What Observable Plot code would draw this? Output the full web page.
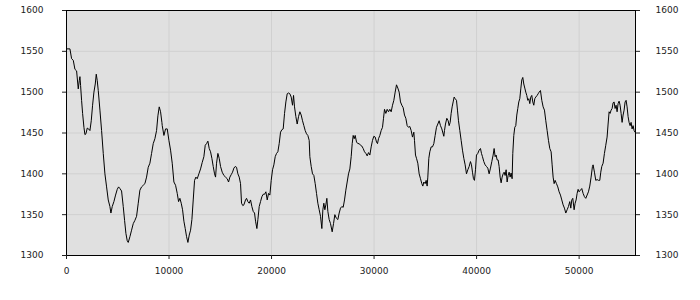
<!DOCTYPE html>
<html>
<head>
<meta charset="utf-8">
<script src="https://cdn.jsdelivr.net/npm/d3@7"></script>
<script src="https://cdn.jsdelivr.net/npm/@observablehq/plot@0.6"></script>
<style>
  html, body { margin: 0; padding: 0; background: #ffffff; }
  #chart svg { display: block; }
</style>
</head>
<body>
<div id="chart"></div>
<script>
const xTicks = [0, 10000, 20000, 30000, 40000, 50000];
const yTicks = [1300, 1350, 1400, 1450, 1500, 1550, 1600];

const segmentA = [[0,1553],[335,1553],[497,1541],[660,1539],[822,1528],[985,1526],[1147,1504],[1245,1514],[1310,1519],[1375,1508],[1472,1490],[1570,1474],[1700,1457],[1797,1448],[1895,1449],[2025,1456],[2155,1455],[2285,1453],[2415,1465],[2545,1484],[2675,1500],[2805,1510],[2902,1522],[3000,1514],[3097,1502],[3260,1478],[3422,1453],[3585,1425],[3747,1400],[3910,1384],[4072,1368],[4235,1360],[4332,1352],[4462,1360],[4625,1366],[4787,1374],[4950,1381],[5080,1384],[5210,1382],[5372,1379],[5535,1360],[5665,1343],[5795,1327],[5925,1318],[6022,1316],[6185,1323],[6347,1331],[6510,1339],[6672,1343],[6835,1348],[6997,1364],[7160,1380],[7322,1384],[7485,1386],[7647,1388],[7810,1396],[7972,1408],[8135,1413],[8297,1425],[8460,1437],[8622,1443],[8785,1453],[8915,1471],[9045,1482],[9175,1476],[9305,1463]];

const segmentB = [[9338,1459],[9501,1447],[9663,1455],[9826,1455],[9988,1441],[10151,1429],[10313,1413],[10476,1390],[10638,1386],[10801,1376],[10931,1366],[11061,1370],[11191,1364],[11321,1356],[11451,1342],[11581,1333],[11711,1323],[11841,1316],[11971,1325],[12101,1331],[12231,1344],[12361,1368],[12491,1392],[12621,1396],[12751,1394],[12913,1400],[13076,1406],[13238,1414],[13401,1421],[13531,1435],[13661,1437],[13791,1440],[13921,1431],[14051,1427],[14181,1419],[14311,1409],[14441,1400],[14538,1396],[14636,1413],[14766,1425],[14896,1419],[15026,1409],[15188,1402],[15351,1398],[15513,1396],[15676,1394],[15806,1390],[15936,1396],[16066,1399],[16196,1402],[16326,1407],[16456,1409],[16586,1408],[16716,1400],[16846,1396],[16976,1388],[17073,1364],[17203,1361],[17301,1362],[17463,1368],[17561,1370],[17691,1366],[17821,1364],[17951,1368],[18081,1360],[18211,1354],[18341,1352]];

const segmentC = [[18440,1342],[18570,1333],[18667,1344],[18797,1360],[18927,1366],[19057,1372],[19187,1375],[19317,1375],[19447,1378],[19577,1368],[19707,1376],[19837,1374],[19967,1392],[20097,1405],[20227,1411],[20357,1421],[20487,1425],[20617,1427],[20747,1437],[20877,1451],[21007,1454],[21137,1455],[21267,1474],[21397,1488],[21527,1498],[21657,1499],[21787,1498],[21917,1494],[22047,1484],[22145,1496],[22242,1482],[22372,1470],[22502,1461],[22632,1470],[22762,1476],[22892,1472],[23022,1465],[23152,1459],[23282,1453],[23412,1449],[23542,1447],[23672,1441],[23737,1421],[23867,1409],[23997,1400],[24127,1398],[24257,1388],[24387,1376],[24517,1364],[24647,1356],[24777,1348],[24907,1333],[25005,1356],[25102,1364],[25200,1356],[25297,1362],[25395,1370],[25492,1354],[25622,1344],[25752,1339],[25915,1329],[26045,1339],[26175,1350],[26305,1346],[26467,1344],[26597,1352],[26727,1358],[26857,1360],[26987,1359],[27117,1368],[27247,1380],[27377,1390],[27507,1400]];

const segmentD = [[27638,1406],[27768,1421],[27866,1437],[27963,1447],[28061,1443],[28158,1447],[28288,1439],[28418,1437],[28548,1437],[28678,1435],[28808,1434],[28938,1431],[29068,1427],[29198,1425],[29328,1422],[29458,1426],[29588,1423],[29718,1433],[29848,1441],[29978,1446],[30108,1445],[30238,1439],[30336,1437],[30433,1443],[30563,1447],[30693,1453],[30823,1457],[30921,1468],[31018,1479],[31148,1474],[31278,1479],[31408,1476],[31538,1479],[31668,1476],[31798,1484],[31928,1490],[32058,1500],[32188,1509],[32318,1505],[32448,1500],[32578,1488],[32708,1484],[32838,1481],[32968,1472],[33098,1468],[33228,1459],[33358,1457],[33488,1458],[33618,1453],[33748,1445],[33878,1451],[33943,1441],[34041,1423],[34138,1419],[34268,1413],[34398,1400],[34528,1394],[34658,1388],[34756,1385],[34853,1390],[34983,1388],[35081,1392],[35178,1385],[35243,1396],[35341,1419],[35438,1427],[35568,1433],[35698,1433],[35828,1437],[35958,1447],[36088,1457],[36218,1461],[36348,1465],[36478,1459],[36608,1455]];

const segmentE = [[36804,1446],[36869,1453],[36966,1461],[37096,1468],[37226,1465],[37324,1459],[37421,1463],[37519,1474],[37616,1482],[37714,1488],[37811,1494],[37909,1492],[38039,1490],[38136,1478],[38234,1465],[38364,1453],[38494,1441],[38624,1429],[38754,1419],[38884,1411],[39014,1400],[39144,1405],[39274,1409],[39404,1415],[39501,1411],[39599,1402],[39696,1394],[39794,1392],[39891,1405],[39989,1423],[40119,1425],[40249,1429],[40379,1431],[40476,1425],[40574,1421],[40704,1415],[40834,1411],[40964,1409],[41094,1407],[41224,1400],[41354,1407],[41484,1415],[41614,1423],[41711,1431],[41809,1421],[41906,1423],[42004,1417],[42101,1417],[42199,1409],[42296,1396],[42394,1389],[42491,1396],[42589,1400],[42686,1402],[42784,1398],[42881,1405],[42979,1390],[43076,1398],[43174,1402],[43271,1396],[43369,1401],[43466,1394],[43531,1425],[43629,1447],[43726,1457],[43824,1459],[43921,1472],[44019,1480],[44116,1488],[44214,1492],[44311,1504],[44409,1515],[44506,1518],[44604,1510],[44701,1505],[44799,1500],[44896,1496],[44994,1490],[45091,1492],[45189,1486],[45286,1494],[45384,1496],[45481,1488],[45579,1484],[45676,1492],[45774,1494],[45904,1496],[46001,1498]];

const segmentF = [[46100,1500],[46230,1502],[46360,1490],[46490,1482],[46620,1478],[46750,1465],[46880,1453],[47010,1441],[47140,1431],[47270,1427],[47368,1411],[47465,1396],[47563,1388],[47660,1392],[47790,1388],[47920,1384],[48050,1378],[48180,1374],[48310,1368],[48440,1362],[48570,1358],[48700,1352],[48830,1356],[48960,1360],[49090,1366],[49188,1358],[49285,1368],[49383,1370],[49513,1356],[49610,1364],[49708,1368],[49805,1376],[49903,1381],[50000,1378],[50130,1380],[50260,1382],[50390,1376],[50520,1372],[50650,1370],[50780,1374],[50910,1378],[51040,1385],[51170,1396],[51300,1409],[51365,1411],[51495,1402],[51625,1392],[51755,1393],[51885,1392],[52015,1392],[52113,1402],[52210,1409],[52340,1413],[52470,1425],[52600,1435],[52730,1445],[52828,1461],[52925,1476],[53023,1474],[53120,1478],[53218,1480],[53315,1487],[53413,1488],[53510,1480],[53608,1484],[53705,1476],[53803,1486],[53900,1489],[53998,1484],[54095,1474],[54193,1463],[54290,1472],[54388,1478],[54485,1488],[54583,1490],[54680,1482],[54778,1470],[54875,1463],[54973,1459],[55070,1463],[55168,1455],[55265,1459],[55363,1453],[55460,1451]];

const series = [...segmentA, ...segmentB, ...segmentC, ...segmentD, ...segmentE, ...segmentF]
  .map(([x, y]) => ({x, y}));

const chart = Plot.plot({
  width: 700,
  height: 300,
  marginLeft: 66,
  marginRight: 65,
  marginTop: 10,
  marginBottom: 45,
  style: {fontFamily: "'DejaVu Sans', Verdana, sans-serif", fontSize: "9px", color: "#222", background: "#ffffff"},
  x: {domain: [0, 55500]},
  y: {domain: [1300, 1600]},
  marks: [
    Plot.frame({fill: "#e0e0e0", stroke: null}),
    Plot.gridX(xTicks, {stroke: "#d0d0d0", strokeOpacity: 1, strokeWidth: 1}),
    Plot.gridY(yTicks, {stroke: "#d0d0d0", strokeOpacity: 1, strokeWidth: 1}),
    Plot.line(series, {x: "x", y: "y", stroke: "#000", strokeWidth: 1}),
    Plot.frame({stroke: "#000", strokeWidth: 1}),
    Plot.axisX(xTicks, {anchor: "bottom", tickSize: 4, tickPadding: 8, tickFormat: d => String(d), fontSize: 9, label: null}),
    Plot.axisY(yTicks, {anchor: "left", tickSize: 4, tickPadding: 19, tickFormat: d => String(d), fontSize: 9, label: null}),
    Plot.axisY(yTicks, {anchor: "right", tickSize: 4, tickPadding: 16, tickFormat: d => String(d), fontSize: 9, label: null})
  ]
});
document.getElementById("chart").appendChild(chart);
</script>
</body>
</html>
